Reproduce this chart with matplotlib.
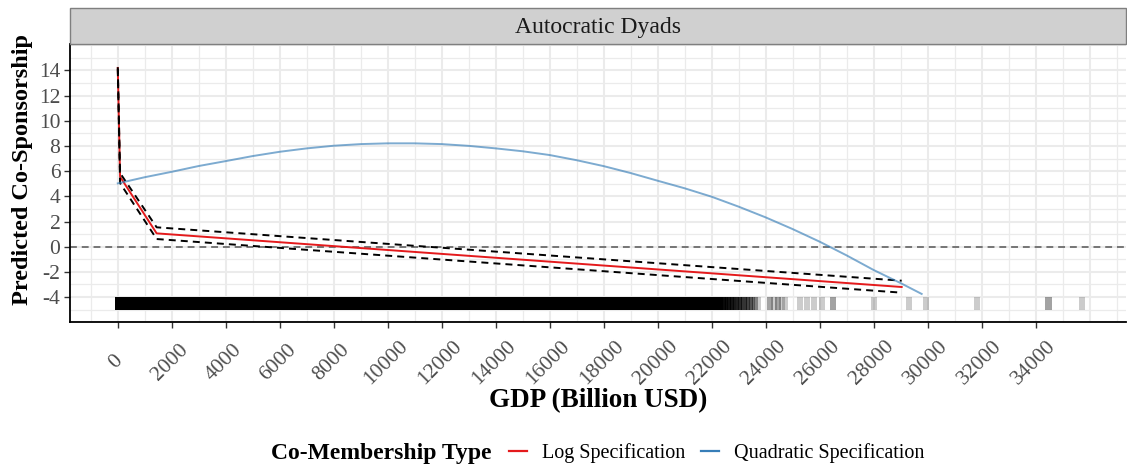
import matplotlib.pyplot as plt
import matplotlib.transforms as mtransforms
from matplotlib.patches import Rectangle
from matplotlib.lines import Line2D

plt.rcParams['font.family'] = ['Liberation Serif', 'DejaVu Serif']

# log specification: fitted values with 95% bounds
log_gdp = [0.3, 85, 1440, 29040]
log_fit = [14.2, 5.56, 1.06, -3.20]
log_upper = [14.25, 5.85, 1.54, -2.70]
log_lower = [14.1, 5.05, 0.61, -3.65]

# quadratic specification
quad_gdp = [0, 1000, 2000, 3000, 4000, 5000, 6000, 7000, 8000, 9000, 10000,
            11000, 12000, 13000, 14000, 15000, 16000, 17000, 18000, 19000, 20000,
            21000, 22000, 23000, 24000, 25000, 26000, 27000, 28000, 29000, 29780]
quad_fit = [5.03, 5.52, 5.95, 6.41, 6.80, 7.20, 7.54, 7.81, 8.02, 8.15, 8.21,
            8.21, 8.15, 8.01, 7.81, 7.58, 7.28, 6.87, 6.40, 5.85, 5.24,
            4.64, 3.97, 3.18, 2.33, 1.40, 0.40, -0.69, -1.85, -2.89, -3.75]

# observed GDP values (rug); below dense_end the marks overlap into a solid bar
dense_start, dense_end = 0, 22300
rug_gdp = [22400, 22500, 22600, 22700, 22800, 22900, 23000, 23100, 23200, 23300,
           23400, 23500, 23600, 23700,
           24150, 24300, 24450, 24600, 24720,
           25260, 25520, 25790, 26100, 26500,
           28000, 29300, 29950, 31830, 34480, 35710]
rug_n = [8, 6, 7, 5, 6, 4, 5, 3, 4, 3,
         3, 2, 2, 1,
         2, 1, 2, 1, 1,
         1, 1, 1, 1, 2,
         1, 1, 1, 1, 2, 1]

x_ticks = list(range(0, 36000, 2000))
y_ticks = list(range(-4, 16, 2))

fig = plt.figure(figsize=(11.27, 4.68), dpi=100)
W, H = 1127, 468
ax = fig.add_axes([70 / W, 1 - 322 / H, (1126 - 70) / W, (322 - 44) / H])

red = '#E41A1C'
blue = '#377EB8'

# grid
for v in range(-1000, 37001, 1000):
    major = v % 2000 == 0
    ax.axvline(v, color='#EBEBEB', lw=1.5 if major else 0.9, zorder=0)
for v in range(-6, 17):
    major = v % 2 == 0
    ax.axhline(v, color='#EBEBEB', lw=1.5 if major else 0.9, zorder=0)

ax.axhline(0, color='#555555', lw=1.1, dashes=(4.5, 3.2), zorder=1)

# rug of observations
mark_w = 230
ax.bar([(dense_start + dense_end) / 2], [1], width=dense_end - dense_start + mark_w,
       bottom=-5, color='black', lw=0, zorder=2)
for g, n in zip(rug_gdp, rug_n):
    for _ in range(n):
        ax.bar([g], [1], width=mark_w, bottom=-5, color='black', alpha=0.2, lw=0, zorder=2)

ax.plot(log_gdp, log_fit, color=red, lw=1.4, zorder=3)
ax.plot(log_gdp, log_upper, color='black', lw=1.4, dashes=(3.6, 2.6), zorder=4)
ax.plot(log_gdp, log_lower, color='black', lw=1.4, dashes=(3.6, 2.6), zorder=4)
ax.plot(quad_gdp, quad_fit, color=blue, alpha=0.65, lw=1.4, zorder=5)

ax.set_xlim(-1770, 37350)
ax.set_ylim(-5.98, 16.1)
ax.set_xticks(x_ticks)
ax.set_xticklabels([str(v) for v in x_ticks], rotation=45, ha='center', va='center',
                   fontsize=15.5, color='#4D4D4D')
ax.set_yticks(y_ticks)
ax.set_yticklabels([str(v) for v in y_ticks], fontsize=15.5, color='#4D4D4D')
ax.tick_params(axis='x', length=4, width=1, color='#333333', pad=25)
ax.tick_params(axis='y', length=4, width=1, color='#333333', pad=3)
shift = mtransforms.ScaledTranslation(-2 / 100, 0, fig.dpi_scale_trans)
for lab in ax.get_xticklabels():
    lab.set_transform(lab.get_transform() + shift)

for s in ['top', 'right']:
    ax.spines[s].set_visible(False)
for s in ['left', 'bottom']:
    ax.spines[s].set_linewidth(1.3)
    ax.spines[s].set_color('black')

ax.set_xlabel('GDP (Billion USD)', fontsize=19.5, fontweight='bold', labelpad=0)
ax.set_ylabel('Predicted Co-Sponsorship', fontsize=17.5, fontweight='bold')
ax.yaxis.set_label_coords(-0.035, 0.547)

# facet strip
strip = Rectangle((70 / W, 1 - 44 / H), (1126 - 70) / W, 36 / H, transform=fig.transFigure,
                  facecolor='#D0D0D0', edgecolor='#7F7F7F', lw=1)
fig.patches.append(strip)
fig.text((70 + 1126) / 2 / W, 1 - 27 / H, 'Autocratic Dyads', ha='center', va='center',
         fontsize=17, color='#1A1A1A')

# legend
fig.text(271 / W, 1 - 453 / H, 'Co-Membership Type', ha='left', va='center',
         fontsize=17, fontweight='bold')
handles = [Line2D([], [], color=red, lw=1.6), Line2D([], [], color=blue, lw=1.6)]
fig.legend(handles, ['Log Specification', 'Quadratic Specification'],
           loc='center left', bbox_to_anchor=(501 / W, 1 - 453 / H), ncol=2,
           frameon=False, fontsize=14.5, handlelength=0.9, handletextpad=0.75,
           columnspacing=0.75, borderaxespad=0)

fig.savefig('out.png', dpi=100)
